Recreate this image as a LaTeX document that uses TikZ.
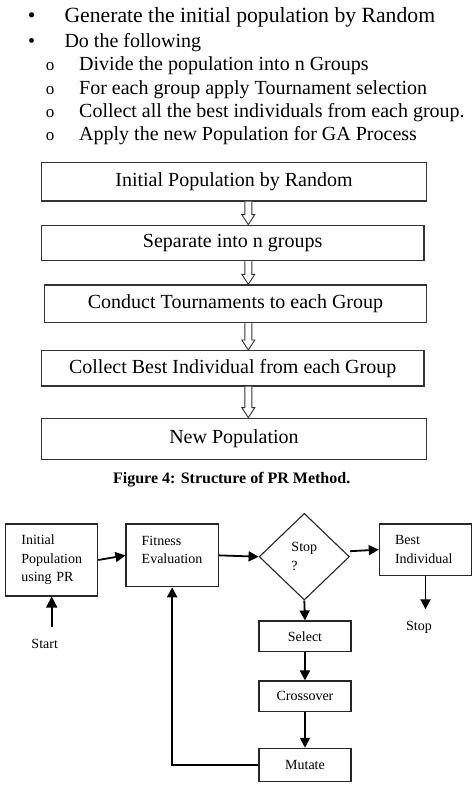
\documentclass[tikz,border=0pt]{standalone}
\usepackage{fontspec}
\setmainfont{Liberation Serif}
\usetikzlibrary{shapes.geometric,arrows.meta,calc}
\begin{document}
\begin{tikzpicture}[x=1pt,y=-1pt,
  bul/.style={inner sep=0pt, font=\fontsize{20}{24}\selectfont},
  bigbul/.style={inner sep=0pt, font=\fontsize{21.7}{26}\selectfont},
  subbul/.style={inner sep=0pt, font=\fontsize{17}{20}\selectfont},
  bigbox/.style={draw=black!80, line width=1.4pt, inner sep=0pt, font=\fontsize{20}{24}\selectfont},
  hollow/.style={draw=black!80, line width=0.9pt, fill=white},
  caption/.style={inner sep=0pt, font=\fontsize{16}{19}\selectfont\bfseries},
  lbox/.style={draw=black!85, line width=1.1pt, inner xsep=15.7pt, inner ysep=0pt, align=left, font=\fontsize{14}{18.5}\selectfont},
  cbox/.style={draw=black!85, line width=1.1pt, inner sep=0pt, minimum width=92pt, font=\fontsize{14}{18.5}\selectfont},
  decision/.style={draw=black!85, line width=1.1pt, diamond, inner sep=0pt, minimum width=90.3pt, minimum height=86.7pt, align=left, font=\fontsize{14}{18.5}\selectfont},
  lbl/.style={inner sep=0pt, font=\fontsize{14}{18.5}\selectfont},
  arr/.style={line width=1.8pt, -{Triangle[length=10pt,width=10pt]}},
  plain/.style={line width=1.8pt}
]
\useasboundingbox (0,0) rectangle (472,792);

% bullet list
\node[bigbul, anchor=base] (m1) at (31.7,22.7) {•};
\node[bigbul, anchor=base west] (t1) at (64.3,22.7) {Generate the initial population by Random};
\node[bul, anchor=base] (m2) at (31.7,47.7) {•};
\node[bul, anchor=base west] (t2) at (64.3,47.7) {Do the following};
\node[subbul, anchor=base] (m3) at (50,70.7) {o};
\node[bul, anchor=base west] (t3) at (79,70.7) {Divide the population into n Groups};
\node[subbul, anchor=base] (m4) at (50,94) {o};
\node[bul, anchor=base west] (t4) at (79,94) {For each group apply Tournament selection};
\node[subbul, anchor=base] (m5) at (50,117.3) {o};
\node[bul, anchor=base west] (t5) at (79,117.3) {Collect all the best individuals from each group.};
\node[subbul, anchor=base] (m6) at (50,140) {o};
\node[bul, anchor=base west] (t6) at (79,140) {Apply the new Population for GA Process};

% structure of PR method
\node[bigbox, minimum width=385.4pt, minimum height=38.3pt] (b1) at (234,181.85) {Initial Population by Random};
\node[bigbox, minimum width=382.7pt, minimum height=35.4pt] (b2) at (232.65,243) {Separate into n groups};
\node[bigbox, minimum width=382.4pt, minimum height=37.7pt] (b3) at (235.5,303.85) {Conduct Tournaments to each Group};
\node[bigbox, minimum width=382.7pt, minimum height=35.3pt] (b4) at (232.65,368.35) {Collect Best Individual from each Group};
\node[bigbox, minimum width=385.4pt, minimum height=41pt] (b5) at (234,438.8) {New Population};

\coordinate (ax) at (248.3,0);
\foreach \a/\b in {b1/b2,b2/b3,b3/b4,b4/b5}{
  \draw[hollow] ($(\a.south -| ax)+(-3.5,0)$) -- ($(\b.north -| ax)+(-3.5,-10)$)
    -- ($(\b.north -| ax)+(-6.5,-10)$) -- (\b.north -| ax)
    -- ($(\b.north -| ax)+(6.5,-10)$) -- ($(\b.north -| ax)+(3.5,-10)$)
    -- ($(\a.south -| ax)+(3.5,0)$);
}

\node[caption, anchor=base] (cap) at (231.7,483.3) {Figure 4: Structure of PR Method.};

% GA flowchart
\node[lbox, text width=60.6pt, minimum height=72pt] (init) at (51.7,560) {Initial\\Population\\using PR};
\node[lbox, text width=60.9pt, minimum height=62.7pt] (fit) at (172.15,555.35) {Fitness\\Evaluation\\[-8pt]\mbox{}};
\node[decision] (stop) at (304.3,556.7) {Stop\\?};
\node[lbox, text width=61pt, minimum height=51.3pt] (best) at (425.5,549.65) {Best\\Individual};
\node[cbox, minimum height=30.7pt] (sel) at (305,636.35) {Select};
\node[cbox, minimum height=30.7pt] (cro) at (305,696.35) {Crossover};
\node[cbox, minimum height=33.4pt] (mut) at (305,765) {Mutate};

\coordinate (startpt) at (51.7,626.7);
\coordinate (endpt) at (425.5,609.3);
\node[lbl] (startlbl) at (44.7,644.3) {Start};
\node[lbl] (stoplbl) at (419,627.7) {Stop};

\draw[arr, -{Triangle[length=11pt,width=11pt]}] (startpt) -- (init.south);
\draw[arr] (init.east) -- (fit.west);
\draw[arr] (fit.east) -- (stop.west);
\draw[arr] ([yshift=5.5pt]stop.east) -- (best.west);
\draw[arr] (best.south) -- (endpt);
\draw[arr] (stop.south) -- (sel.north);
\draw[arr] (sel.south) -- (cro.north);
\draw[arr] (cro.south) -- (mut.north);
\draw[arr] (mut.west) -| (fit.south);
\end{tikzpicture}
\end{document}
